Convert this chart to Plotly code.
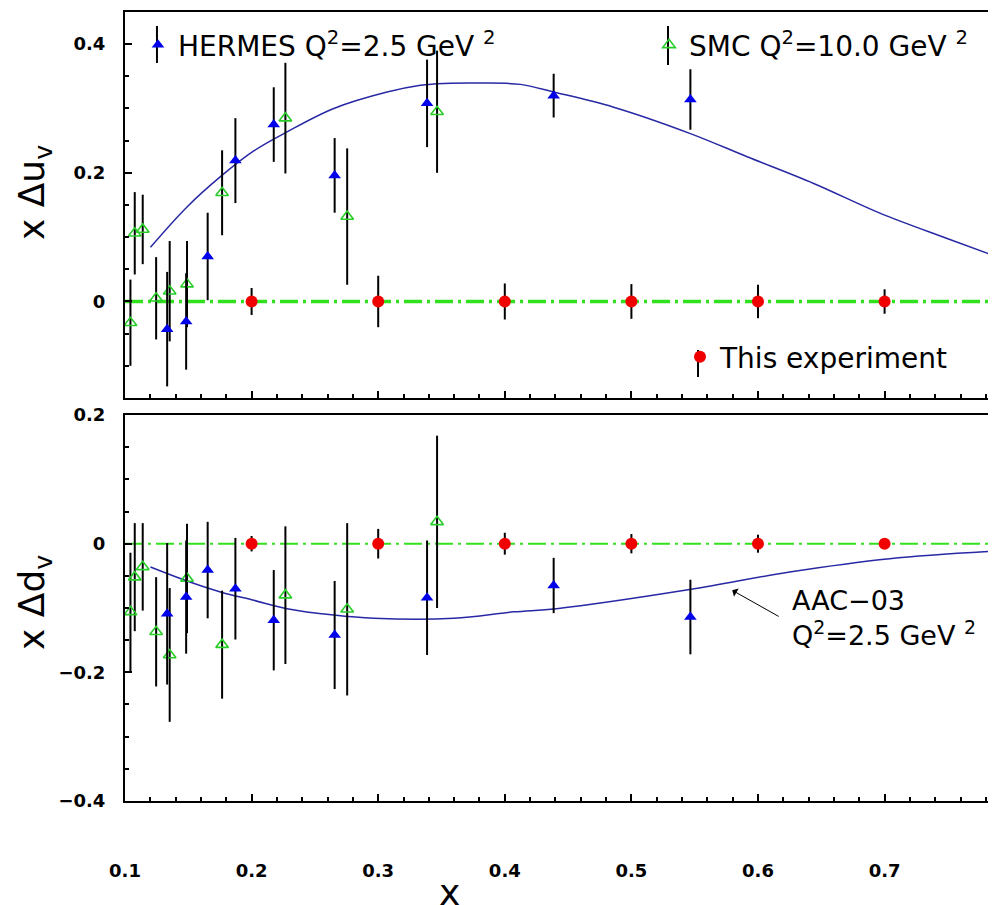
import plotly.graph_objects as go

# ---------------- data ----------------
HERMES_X = [0.1333, 0.1483, 0.1653, 0.1872, 0.2175, 0.2656, 0.3386, 0.4386, 0.5466]
HERMES_DU = [-0.043, -0.031, 0.070, 0.219, 0.275, 0.196, 0.308, 0.320, 0.314]
HERMES_DU_ERR = [0.089, 0.075, 0.068, 0.066, 0.058, 0.058, 0.068, 0.034, 0.047]
HERMES_DD = [-0.109, -0.083, -0.041, -0.070, -0.119, -0.142, -0.084, -0.065, -0.114]
HERMES_DD_ERR = [0.110, 0.088, 0.075, 0.079, 0.078, 0.084, 0.089, 0.043, 0.058]

SMC_X = [0.1043, 0.1077, 0.1140, 0.1246, 0.1353, 0.1490, 0.1767, 0.2267, 0.2755, 0.3465]
SMC_DU = [-0.033, 0.106, 0.112, 0.005, 0.016, 0.027, 0.169, 0.285, 0.132, 0.295]
SMC_DU_ERR = [0.067, 0.064, 0.054, 0.064, 0.078, 0.067, 0.066, 0.086, 0.106, 0.095]
SMC_DD = [-0.106, -0.052, -0.036, -0.137, -0.173, -0.054, -0.157, -0.080, -0.102, 0.034]
SMC_DD_ERR = [0.092, 0.084, 0.068, 0.085, 0.104, 0.085, 0.084, 0.107, 0.134, 0.134]

THIS_X = [0.2, 0.3, 0.4, 0.5, 0.6, 0.7]
THIS_DU = [0, 0, 0, 0, 0, 0]
THIS_DU_ERR = [0.021, 0.040, 0.028, 0.027, 0.026, 0.019]
THIS_DD = [0, 0, 0, 0, 0, 0]
THIS_DD_ERR = [0.012, 0.023, 0.017, 0.015, 0.014, 0.006]

AAC_DU_X = [0.1201, 0.149, 0.1754, 0.2017, 0.228, 0.2649, 0.307, 0.3333, 0.3465,
            0.3807, 0.4123, 0.4386, 0.486, 0.5466, 0.5914, 0.644, 0.6967, 0.7494, 0.788]
AAC_DU = [0.0843, 0.147, 0.194, 0.234, 0.2636, 0.300, 0.3256, 0.336, 0.3386,
          0.3395, 0.3375, 0.3256, 0.302, 0.261, 0.225, 0.1835, 0.137, 0.098, 0.070]
AAC_DD_X = [0.1201, 0.149, 0.1754, 0.2017, 0.228, 0.2649, 0.2965, 0.3597, 0.407,
            0.4408, 0.546, 0.625, 0.704, 0.788]
AAC_DD = [-0.0363, -0.058, -0.075, -0.088, -0.101, -0.111, -0.116, -0.116, -0.106,
          -0.101, -0.0713, -0.044, -0.0233, -0.0115]

X_RANGE = [0.1, 0.788]
X_TICKS = [0.1, 0.2, 0.3, 0.4, 0.5, 0.6, 0.7]

# ---------------- styles ----------------
BLUE = "rgb(0,0,235)"
CURVE = "rgb(40,40,165)"
GREEN = "rgb(40,205,40)"
ZERO_GREEN = "rgb(50,225,30)"
RED = "rgb(240,0,0)"
TICKFONT = dict(family="DejaVu Sans", size=18, color="black", weight="bold")
TXTFONT = "DejaVu Sans"
LEGFONT = dict(family=TXTFONT, size=28, color="black")

fig = go.Figure()


def err(arr):
    return dict(type="data", array=arr, visible=True, color="black",
                thickness=2, width=0)


shapes = []
# zero reference lines (under the points)
for xref, yref, w in (("x domain", "y", 3.5), ("x2 domain", "y2", 2)):
    shapes.append(dict(type="line", xref=xref, yref=yref, x0=0, x1=1, y0=0, y1=0,
                       line=dict(color=ZERO_GREEN, width=w, dash="18px,5px,3px,5px"),
                       layer="below"))
# vertical error-bar strokes through the legend symbols
for lx, ly0, ly1 in ((0.0367, 0.9823, 0.9354), (0.6234, 0.9823, 0.9328),
                     (0.6579, 0.5716, 0.5374)):
    shapes.append(dict(type="line", xref="paper", yref="paper", x0=lx, x1=lx,
                       y0=ly0, y1=ly1, line=dict(color="black", width=2),
                       layer="below"))

# top panel
fig.add_trace(go.Scatter(x=AAC_DU_X, y=AAC_DU, mode="lines",
                         line=dict(color=CURVE, width=1.5, shape="spline"),
                         showlegend=False, xaxis="x", yaxis="y"))
fig.add_trace(go.Scatter(x=SMC_X, y=SMC_DU, mode="markers", error_y=err(SMC_DU_ERR),
                         marker=dict(symbol="triangle-up-open", size=11, color=GREEN,
                                     line=dict(width=1.6, color=GREEN)),
                         name="SMC Q<sup>2</sup>=10.0 GeV <sup>2</sup>",
                         legend="legend2", xaxis="x", yaxis="y"))
fig.add_trace(go.Scatter(x=HERMES_X, y=HERMES_DU, mode="markers", error_y=err(HERMES_DU_ERR),
                         marker=dict(symbol="triangle-up", size=11, color=BLUE),
                         name="HERMES Q<sup>2</sup>=2.5 GeV <sup>2</sup>",
                         legend="legend", xaxis="x", yaxis="y"))
fig.add_trace(go.Scatter(x=THIS_X, y=THIS_DU, mode="markers", error_y=err(THIS_DU_ERR),
                         marker=dict(symbol="circle", size=12, color=RED),
                         name="This experiment", legend="legend3", xaxis="x", yaxis="y"))

# bottom panel
fig.add_trace(go.Scatter(x=AAC_DD_X, y=AAC_DD, mode="lines",
                         line=dict(color=CURVE, width=1.5, shape="spline"),
                         showlegend=False, xaxis="x2", yaxis="y2"))
fig.add_trace(go.Scatter(x=SMC_X, y=SMC_DD, mode="markers", error_y=err(SMC_DD_ERR),
                         marker=dict(symbol="triangle-up-open", size=11, color=GREEN,
                                     line=dict(width=1.6, color=GREEN)),
                         showlegend=False, xaxis="x2", yaxis="y2"))
fig.add_trace(go.Scatter(x=HERMES_X, y=HERMES_DD, mode="markers", error_y=err(HERMES_DD_ERR),
                         marker=dict(symbol="triangle-up", size=11, color=BLUE),
                         showlegend=False, xaxis="x2", yaxis="y2"))
fig.add_trace(go.Scatter(x=THIS_X, y=THIS_DD, mode="markers", error_y=err(THIS_DD_ERR),
                         marker=dict(symbol="circle", size=12, color=RED),
                         showlegend=False, xaxis="x2", yaxis="y2"))

axis_common = dict(showline=True, linecolor="black", linewidth=2, ticks="inside",
                   tickcolor="black", tickwidth=1.5, showgrid=False, zeroline=False,
                   tickfont=TICKFONT, automargin=False)
minor_x = dict(dtick=0.02, ticks="inside", ticklen=4, tickcolor="black", showgrid=False)
minor_y = dict(dtick=0.05, ticks="inside", ticklen=4, tickcolor="black", showgrid=False)

# the page adds an 8px body margin, so the figure is 8px smaller than the window
fig.update_layout(
    width=988, height=897,
    margin=dict(l=117, r=0, t=4, b=104),
    paper_bgcolor="white", plot_bgcolor="white",
    shapes=shapes,
    xaxis=dict(axis_common, domain=[0, 1], anchor="y", range=X_RANGE,
               tickvals=X_TICKS, showticklabels=False, ticklen=7, mirror=True,
               minor=minor_x),
    yaxis=dict(axis_common, domain=[0.5108, 1], anchor="x", range=[-0.15, 0.45],
               dtick=0.2, tick0=0, ticklen=7, ticklabelstandoff=14, minor=minor_y),
    xaxis2=dict(axis_common, domain=[0, 1], anchor="y2", range=X_RANGE,
                tickvals=X_TICKS, ticklen=7, mirror=True, ticklabelstandoff=52,
                minor=minor_x),
    yaxis2=dict(axis_common, domain=[0, 0.4892], anchor="x2", range=[-0.4001, 0.2001],
                dtick=0.2, tick0=0, ticklen=7, ticklabelstandoff=14, minor=minor_y),
    legend=dict(x=0.0149, y=0.958, xanchor="left", yanchor="middle",
                bgcolor="rgba(0,0,0,0)", font=LEGFONT),
    legend2=dict(x=0.6016, y=0.958, xanchor="left", yanchor="middle",
                 bgcolor="rgba(0,0,0,0)", font=LEGFONT),
    legend3=dict(x=0.6372, y=0.5627, xanchor="left", yanchor="middle",
                 bgcolor="rgba(0,0,0,0)", font=LEGFONT),
    annotations=[
        dict(text="x Δu<sub>v</sub>", xref="paper", yref="paper", x=-0.1033, y=0.7706,
             textangle=-90, showarrow=False, xanchor="center", yanchor="middle",
             font=dict(family=TXTFONT, size=36, color="black")),
        dict(text="x Δd<sub>v</sub>", xref="paper", yref="paper", x=-0.1033, y=0.2510,
             textangle=-90, showarrow=False, xanchor="center", yanchor="middle",
             font=dict(family=TXTFONT, size=36, color="black")),
        dict(text="x", xref="paper", yref="paper", x=0.372, y=-0.0875,
             showarrow=False, xanchor="center", yanchor="top",
             font=dict(family=TXTFONT, size=36, color="black")),
        dict(text="AAC−03<br>Q<sup>2</sup>=2.5 GeV <sup>2</sup>", xref="paper", yref="paper",
             x=0.7635, y=0.2319, showarrow=False, xanchor="left", yanchor="middle",
             align="left", font=dict(family=TXTFONT, size=27, color="black")),
        dict(text="", xref="x2", yref="y2", x=0.5796, y=-0.0724, ax=48, ay=27,
             showarrow=True, arrowhead=1, arrowsize=1.6, arrowwidth=1, arrowcolor="black"),
    ],
)

fig.write_html("out.html")
